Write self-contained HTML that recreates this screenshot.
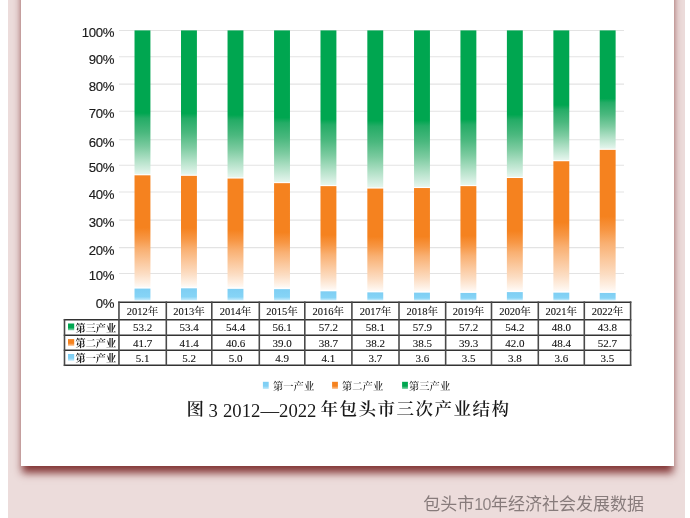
<!DOCTYPE html>
<html><head><meta charset="utf-8"><style>
html,body{margin:0;padding:0;}
body{width:690px;height:518px;position:relative;overflow:hidden;background:#fff;}
#bg{position:absolute;left:8px;top:0;width:677px;height:518px;background:#ecdcdb;}
#card{position:absolute;left:21px;top:-30px;width:653px;height:496px;background:#fff;box-shadow:0 7.5px 8px -1px rgba(125,45,45,0.95);}
#gfx{position:absolute;left:0;top:0;}
.yl{position:absolute;left:60px;width:54px;text-align:right;font:13.2px/13px "Liberation Sans",sans-serif;letter-spacing:-0.4px;color:#1a1a1a;-webkit-text-stroke:0.15px #1a1a1a;}
.th,.td{position:absolute;width:46.60px;display:flex;align-items:center;justify-content:center;font-family:"Liberation Serif","Noto Serif CJK SC",serif;color:#111;-webkit-text-stroke:0.1px #111;}
.th{font-size:10.5px;}
.td{font-size:11px;}
.rl{position:absolute;display:flex;align-items:center;font:700 10.2px "Liberation Serif","Noto Serif CJK SC",serif;color:#222;}
.lg{position:absolute;top:381.2px;font:600 10.3px/12px "Liberation Serif","Noto Serif CJK SC",serif;color:#333;}
#title{position:absolute;left:0;top:397px;width:690px;height:24px;white-space:nowrap;color:#1a1a1a;}
#title span{position:absolute;top:0;line-height:24px;}
.tc{font:600 17.5px/24px "Liberation Serif","Noto Serif CJK SC",serif;top:0.2px!important;}
.tn{font:18.7px/24px "Liberation Serif",serif;top:1.8px!important;}
#foot{position:absolute;left:423.3px;top:493.7px;white-space:nowrap;font:400 17px/22px "Liberation Sans","Noto Sans CJK SC",sans-serif;color:#877b7b;}
#foot span{font-size:16px;letter-spacing:-0.6px;color:#8e8383;}
</style></head><body>
<div id="bg"></div>
<div id="card"></div>
<svg id="gfx" width="690" height="518" viewBox="0 0 690 518"><defs><linearGradient id="g3" x1="0" y1="0" x2="0" y2="1"><stop offset="0%" stop-color="rgb(0,166,80)"/><stop offset="57.5%" stop-color="rgb(0,166,80)"/><stop offset="61%" stop-color="rgb(36,172,102)"/><stop offset="71%" stop-color="rgb(74,184,126)"/><stop offset="81%" stop-color="rgb(124,203,160)"/><stop offset="90%" stop-color="rgb(176,224,198)"/><stop offset="97%" stop-color="rgb(214,239,226)"/><stop offset="100%" stop-color="rgb(230,246,238)"/></linearGradient><linearGradient id="g2" x1="0" y1="0" x2="0" y2="1"><stop offset="0%" stop-color="rgb(245,130,31)"/><stop offset="47%" stop-color="rgb(245,130,31)"/><stop offset="57%" stop-color="rgb(247,151,69)"/><stop offset="66%" stop-color="rgb(249,176,114)"/><stop offset="78%" stop-color="rgb(251,201,159)"/><stop offset="88%" stop-color="rgb(252,221,195)"/><stop offset="96%" stop-color="rgb(254,240,228)"/><stop offset="100%" stop-color="rgb(255,250,246)"/></linearGradient><linearGradient id="g1" x1="0" y1="0" x2="0" y2="1"><stop offset="0%" stop-color="rgb(126,206,243)"/><stop offset="70%" stop-color="rgb(134,212,246)"/><stop offset="100%" stop-color="rgb(205,237,251)"/></linearGradient><linearGradient id="s3" x1="0" y1="0" x2="0" y2="1"><stop offset="0%" stop-color="rgb(0,166,80)"/><stop offset="60%" stop-color="rgb(0,166,80)"/><stop offset="100%" stop-color="rgb(140,215,176)"/></linearGradient><linearGradient id="s2" x1="0" y1="0" x2="0" y2="1"><stop offset="0%" stop-color="rgb(245,130,31)"/><stop offset="60%" stop-color="rgb(245,130,31)"/><stop offset="100%" stop-color="rgb(251,205,165)"/></linearGradient><linearGradient id="s1" x1="0" y1="0" x2="0" y2="1"><stop offset="0%" stop-color="rgb(126,206,243)"/><stop offset="60%" stop-color="rgb(130,209,245)"/><stop offset="100%" stop-color="rgb(200,235,250)"/></linearGradient></defs><line x1="119.0" x2="624.0" y1="30.50" y2="30.50" stroke="#e3e3e3" stroke-width="1.1"/><line x1="119.0" x2="624.0" y1="56.80" y2="56.80" stroke="#e3e3e3" stroke-width="1.1"/><line x1="119.0" x2="624.0" y1="84.10" y2="84.10" stroke="#e3e3e3" stroke-width="1.1"/><line x1="119.0" x2="624.0" y1="111.20" y2="111.20" stroke="#e3e3e3" stroke-width="1.1"/><line x1="119.0" x2="624.0" y1="139.80" y2="139.80" stroke="#e3e3e3" stroke-width="1.1"/><line x1="119.0" x2="624.0" y1="165.30" y2="165.30" stroke="#e3e3e3" stroke-width="1.1"/><line x1="119.0" x2="624.0" y1="192.00" y2="192.00" stroke="#e3e3e3" stroke-width="1.1"/><line x1="119.0" x2="624.0" y1="220.10" y2="220.10" stroke="#e3e3e3" stroke-width="1.1"/><line x1="119.0" x2="624.0" y1="247.60" y2="247.60" stroke="#e3e3e3" stroke-width="1.1"/><line x1="119.0" x2="624.0" y1="273.50" y2="273.50" stroke="#e3e3e3" stroke-width="1.1"/><rect x="134.52" y="288.59" width="15.9" height="11.81" fill="url(#g1)"/><rect x="134.52" y="175.31" width="15.9" height="111.88" fill="url(#g2)"/><rect x="134.52" y="30.40" width="15.9" height="143.81" fill="url(#g3)"/><rect x="181.01" y="288.32" width="15.9" height="12.08" fill="url(#g1)"/><rect x="181.01" y="175.85" width="15.9" height="111.07" fill="url(#g2)"/><rect x="181.01" y="30.40" width="15.9" height="144.35" fill="url(#g3)"/><rect x="227.54" y="288.86" width="15.9" height="11.54" fill="url(#g1)"/><rect x="227.54" y="178.56" width="15.9" height="108.90" fill="url(#g2)"/><rect x="227.54" y="30.40" width="15.9" height="147.06" fill="url(#g3)"/><rect x="274.07" y="289.14" width="15.9" height="11.26" fill="url(#g1)"/><rect x="274.07" y="183.16" width="15.9" height="104.57" fill="url(#g2)"/><rect x="274.07" y="30.40" width="15.9" height="151.66" fill="url(#g3)"/><rect x="320.50" y="291.30" width="15.9" height="9.10" fill="url(#g1)"/><rect x="320.50" y="186.14" width="15.9" height="103.76" fill="url(#g2)"/><rect x="320.50" y="30.40" width="15.9" height="154.64" fill="url(#g3)"/><rect x="367.33" y="292.38" width="15.9" height="8.02" fill="url(#g1)"/><rect x="367.33" y="188.58" width="15.9" height="102.41" fill="url(#g2)"/><rect x="367.33" y="30.40" width="15.9" height="157.08" fill="url(#g3)"/><rect x="414.04" y="292.65" width="15.9" height="7.75" fill="url(#g1)"/><rect x="414.04" y="188.04" width="15.9" height="103.22" fill="url(#g2)"/><rect x="414.04" y="30.40" width="15.9" height="156.54" fill="url(#g3)"/><rect x="460.45" y="292.93" width="15.9" height="7.47" fill="url(#g1)"/><rect x="460.45" y="186.14" width="15.9" height="105.39" fill="url(#g2)"/><rect x="460.45" y="30.40" width="15.9" height="154.64" fill="url(#g3)"/><rect x="506.89" y="292.11" width="15.9" height="8.29" fill="url(#g1)"/><rect x="506.89" y="178.02" width="15.9" height="112.69" fill="url(#g2)"/><rect x="506.89" y="30.40" width="15.9" height="146.52" fill="url(#g3)"/><rect x="553.37" y="292.65" width="15.9" height="7.75" fill="url(#g1)"/><rect x="553.37" y="161.24" width="15.9" height="130.02" fill="url(#g2)"/><rect x="553.37" y="30.40" width="15.9" height="129.74" fill="url(#g3)"/><rect x="599.73" y="292.93" width="15.9" height="7.47" fill="url(#g1)"/><rect x="599.73" y="149.87" width="15.9" height="141.66" fill="url(#g2)"/><rect x="599.73" y="30.40" width="15.9" height="118.37" fill="url(#g3)"/><g stroke="#333" stroke-width="1.5" fill="none"><line x1="118.21" x2="631.35" y1="302.2" y2="302.2"/><line x1="63.75" x2="631.35" y1="319.7" y2="319.7"/><line x1="63.75" x2="631.35" y1="335.3" y2="335.3"/><line x1="63.75" x2="631.35" y1="350.2" y2="350.2"/><line x1="63.75" x2="631.35" y1="365.3" y2="365.3"/></g><g stroke="#4a4a4a" stroke-width="1.6" fill="none"><line x1="64.5" x2="64.5" y1="318.95" y2="366.05"/><line x1="118.96" x2="118.96" y1="301.45" y2="366.05"/><line x1="166.30" x2="166.30" y1="301.45" y2="366.05"/><line x1="211.80" x2="211.80" y1="301.45" y2="366.05"/><line x1="259.30" x2="259.30" y1="301.45" y2="366.05"/><line x1="304.80" x2="304.80" y1="301.45" y2="366.05"/><line x1="351.90" x2="351.90" y1="301.45" y2="366.05"/><line x1="399.00" x2="399.00" y1="301.45" y2="366.05"/><line x1="445.65" x2="445.65" y1="301.45" y2="366.05"/><line x1="491.50" x2="491.50" y1="301.45" y2="366.05"/><line x1="538.30" x2="538.30" y1="301.45" y2="366.05"/><line x1="584.30" x2="584.30" y1="301.45" y2="366.05"/><line x1="630.60" x2="630.60" y1="301.45" y2="366.05"/></g><rect x="68" y="323.50" width="6.2" height="6.8" fill="url(#s3)"/><rect x="68" y="339.10" width="6.2" height="6.8" fill="url(#s2)"/><rect x="68" y="354.00" width="6.2" height="6.8" fill="url(#s1)"/><rect x="262.9" y="381.8" width="5.8" height="7.2" fill="url(#s1)"/><rect x="332.1" y="381.8" width="5.8" height="7.2" fill="url(#s2)"/><rect x="402.1" y="381.8" width="5.8" height="7.2" fill="url(#s3)"/></svg>
<div class="yl" style="top:26.40px">100%</div><div class="yl" style="top:52.70px">90%</div><div class="yl" style="top:80.00px">80%</div><div class="yl" style="top:107.10px">70%</div><div class="yl" style="top:135.70px">60%</div><div class="yl" style="top:161.20px">50%</div><div class="yl" style="top:187.90px">40%</div><div class="yl" style="top:216.00px">30%</div><div class="yl" style="top:243.50px">20%</div><div class="yl" style="top:269.40px">10%</div><div class="yl" style="top:296.90px">0%</div><div class="th" style="left:118.96px;width:47.34px;top:302.20px;height:17.50px">2012年</div><div class="td" style="left:118.96px;width:47.34px;top:319.70px;height:15.60px">53.2</div><div class="td" style="left:118.96px;width:47.34px;top:335.30px;height:14.90px">41.7</div><div class="td" style="left:118.96px;width:47.34px;top:350.20px;height:15.10px">5.1</div><div class="th" style="left:166.30px;width:45.50px;top:302.20px;height:17.50px">2013年</div><div class="td" style="left:166.30px;width:45.50px;top:319.70px;height:15.60px">53.4</div><div class="td" style="left:166.30px;width:45.50px;top:335.30px;height:14.90px">41.4</div><div class="td" style="left:166.30px;width:45.50px;top:350.20px;height:15.10px">5.2</div><div class="th" style="left:211.80px;width:47.50px;top:302.20px;height:17.50px">2014年</div><div class="td" style="left:211.80px;width:47.50px;top:319.70px;height:15.60px">54.4</div><div class="td" style="left:211.80px;width:47.50px;top:335.30px;height:14.90px">40.6</div><div class="td" style="left:211.80px;width:47.50px;top:350.20px;height:15.10px">5.0</div><div class="th" style="left:259.30px;width:45.50px;top:302.20px;height:17.50px">2015年</div><div class="td" style="left:259.30px;width:45.50px;top:319.70px;height:15.60px">56.1</div><div class="td" style="left:259.30px;width:45.50px;top:335.30px;height:14.90px">39.0</div><div class="td" style="left:259.30px;width:45.50px;top:350.20px;height:15.10px">4.9</div><div class="th" style="left:304.80px;width:47.10px;top:302.20px;height:17.50px">2016年</div><div class="td" style="left:304.80px;width:47.10px;top:319.70px;height:15.60px">57.2</div><div class="td" style="left:304.80px;width:47.10px;top:335.30px;height:14.90px">38.7</div><div class="td" style="left:304.80px;width:47.10px;top:350.20px;height:15.10px">4.1</div><div class="th" style="left:351.90px;width:47.10px;top:302.20px;height:17.50px">2017年</div><div class="td" style="left:351.90px;width:47.10px;top:319.70px;height:15.60px">58.1</div><div class="td" style="left:351.90px;width:47.10px;top:335.30px;height:14.90px">38.2</div><div class="td" style="left:351.90px;width:47.10px;top:350.20px;height:15.10px">3.7</div><div class="th" style="left:399.00px;width:46.65px;top:302.20px;height:17.50px">2018年</div><div class="td" style="left:399.00px;width:46.65px;top:319.70px;height:15.60px">57.9</div><div class="td" style="left:399.00px;width:46.65px;top:335.30px;height:14.90px">38.5</div><div class="td" style="left:399.00px;width:46.65px;top:350.20px;height:15.10px">3.6</div><div class="th" style="left:445.65px;width:45.85px;top:302.20px;height:17.50px">2019年</div><div class="td" style="left:445.65px;width:45.85px;top:319.70px;height:15.60px">57.2</div><div class="td" style="left:445.65px;width:45.85px;top:335.30px;height:14.90px">39.3</div><div class="td" style="left:445.65px;width:45.85px;top:350.20px;height:15.10px">3.5</div><div class="th" style="left:491.50px;width:46.80px;top:302.20px;height:17.50px">2020年</div><div class="td" style="left:491.50px;width:46.80px;top:319.70px;height:15.60px">54.2</div><div class="td" style="left:491.50px;width:46.80px;top:335.30px;height:14.90px">42.0</div><div class="td" style="left:491.50px;width:46.80px;top:350.20px;height:15.10px">3.8</div><div class="th" style="left:538.30px;width:46.00px;top:302.20px;height:17.50px">2021年</div><div class="td" style="left:538.30px;width:46.00px;top:319.70px;height:15.60px">48.0</div><div class="td" style="left:538.30px;width:46.00px;top:335.30px;height:14.90px">48.4</div><div class="td" style="left:538.30px;width:46.00px;top:350.20px;height:15.10px">3.6</div><div class="th" style="left:584.30px;width:46.30px;top:302.20px;height:17.50px">2022年</div><div class="td" style="left:584.30px;width:46.30px;top:319.70px;height:15.60px">43.8</div><div class="td" style="left:584.30px;width:46.30px;top:335.30px;height:14.90px">52.7</div><div class="td" style="left:584.30px;width:46.30px;top:350.20px;height:15.10px">3.5</div><div class="rl" style="left:75.5px;top:319.70px;height:15.60px">第三产业</div><div class="rl" style="left:75.5px;top:335.30px;height:14.90px">第二产业</div><div class="rl" style="left:75.5px;top:350.20px;height:15.10px">第一产业</div>
<div class="lg" style="left:273px">第一产业</div>
<div class="lg" style="left:342px">第二产业</div>
<div class="lg" style="left:409px">第三产业</div>
<div id="title"><span class="tc" style="left:186.5px">图</span><span class="tn" style="left:208.5px">3</span><span class="tn" style="left:223px">2012—2022</span><span class="tc" style="left:320.5px;letter-spacing:1.5px">年包头市三次产业结构</span></div>
<div id="foot">包头市<span>10</span>年经济社会发展数据</div>
</body></html>
